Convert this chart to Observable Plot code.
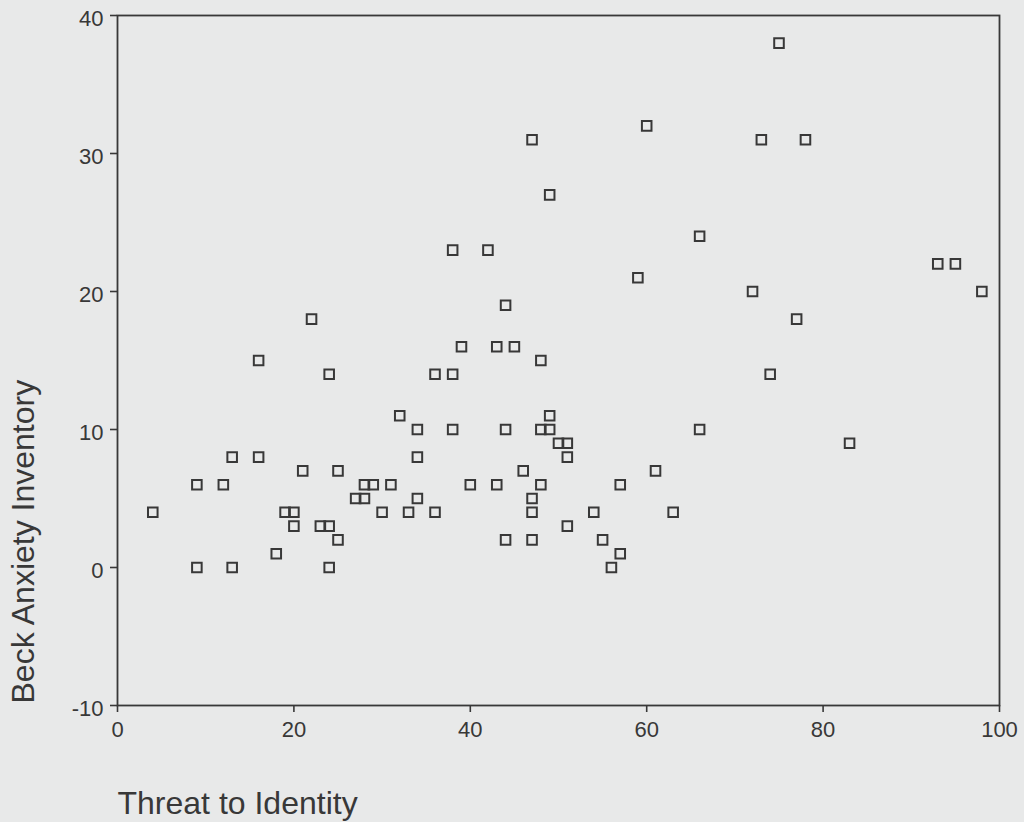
<!DOCTYPE html>
<html>
<head>
<meta charset="utf-8">
<script src="https://cdn.jsdelivr.net/npm/d3@7"></script>
<script src="https://cdn.jsdelivr.net/npm/@observablehq/plot@0.6"></script>
<style>
  html, body { margin: 0; padding: 0; background: #e8e9e9; }
  #chart svg { display: block; }
  #chart svg text { font-family: "Liberation Sans", Arial, Helvetica, sans-serif; }
</style>
</head>
<body>
<div id="chart"></div>
<script>
const threat = [4,9,9,12,13,13,16,16,18,19,20,20,21,22,23,24,24,24,25,25,27,28,28,29,30,31,32,33,34,34,34,36,36,38,38,38,39,40,42,43,43,44,44,44,45,46,47,47,47,47,48,48,48,49,49,49,50,51,51,51,54,55,56,57,57,59,60,61,63,66,66,72,73,74,75,77,78,83,93,95,98];
const beck   = [4,6,0,6,8,0,15,8,1,4,4,3,7,18,3,14,3,0,7,2,5,6,5,6,4,6,11,4,10,8,5,14,4,23,14,10,16,6,23,16,6,19,10,2,16,7,31,5,4,2,15,10,6,10,11,27,9,9,8,3,4,2,0,6,1,21,32,7,4,24,10,20,31,14,38,18,31,9,22,22,20];
const xTicks = [0, 20, 40, 60, 80, 100];
const yTicks = [-10, 0, 10, 20, 30, 40];
const xLabel = "Threat to Identity";
const yLabel = "Beck Anxiety Inventory";

const data = threat.map((t, i) => ({threat: t, beck: beck[i]}));
const ink = "#383838";
const font = "Liberation Sans, Arial, Helvetica, sans-serif";

const chart = Plot.plot({
  width: 1024,
  height: 822,
  marginLeft: 117,
  marginRight: 25,
  marginTop: 15,
  marginBottom: 117,
  style: {background: "#e8e9e9", color: ink, fontFamily: font},
  x: {domain: [0, 100]},
  y: {domain: [-10, 40]},
  marks: [
    Plot.frame({stroke: ink, strokeWidth: 1.8}),
    Plot.axisX({ticks: xTicks, tickSize: 7, tickPadding: 9, label: null,
      tickFormat: d => String(d), fontSize: 22, fill: ink, stroke: ink, strokeWidth: 1.6}),
    // y tick marks only
    Plot.axisY({ticks: yTicks, tickSize: 7, label: null,
      tickFormat: () => "", stroke: ink, strokeWidth: 1.6}),
    // y tick labels, nudged slightly below the ticks as in the reference
    Plot.axisY({ticks: yTicks, tickSize: 0, tickPadding: 14, label: null, dy: 3,
      tickFormat: d => String(d), fontSize: 22, fill: ink}),
    Plot.dot(data, {x: "threat", y: "beck", symbol: "square", r: 5.4,
      stroke: ink, strokeWidth: 2, fill: "none"}),
    Plot.text([xLabel], {frameAnchor: "bottom-left", text: d => d, textAnchor: "start",
      lineAnchor: "middle", dy: 98, fontSize: 32, fill: ink}),
    Plot.text([yLabel], {frameAnchor: "bottom-left", text: d => d, textAnchor: "start",
      lineAnchor: "middle", rotate: -90, dx: -94, dy: -2, fontSize: 32, fill: ink})
  ]
});
document.getElementById("chart").appendChild(chart);
</script>
</body>
</html>
